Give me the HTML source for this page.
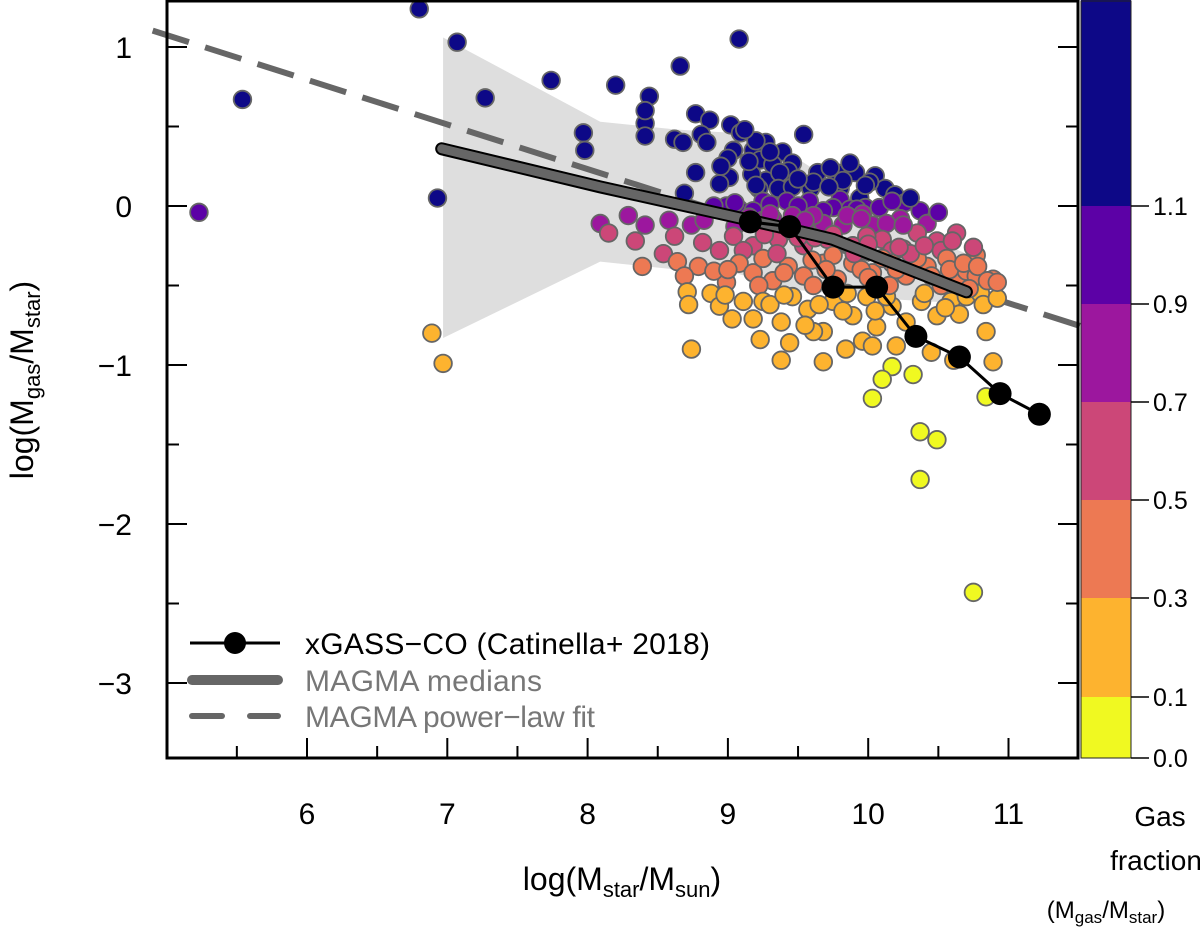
<!DOCTYPE html>
<html><head><meta charset="utf-8"><style>
html,body{margin:0;padding:0;background:#fff;}
svg{display:block;font-family:"Liberation Sans",sans-serif;}
</style></head><body>
<svg id="chart" width="1200" height="928" viewBox="0 0 1200 928" xmlns="http://www.w3.org/2000/svg">
<g id="shade"></g>
<g id="fit"></g>
<g id="pts"></g>
<g id="med"></g>
<g id="xg"></g>
<g id="axes"></g>
<g id="cbar"></g>
<g>
  <line x1="190" y1="643" x2="280" y2="643" stroke="#000" stroke-width="3"/>
  <circle cx="235" cy="643" r="11" fill="#000"/>
  <text x="305" y="654" font-size="30" textLength="405" fill="#000">xGASS−CO (Catinella+ 2018)</text>
  <line x1="192" y1="680" x2="278" y2="680" stroke="#666" stroke-width="10" stroke-linecap="round"/>
  <text x="305" y="691" font-size="30" textLength="237" fill="#777">MAGMA medians</text>
  <line x1="192" y1="716" x2="222" y2="716" stroke="#666" stroke-width="6" stroke-linecap="round"/>
  <line x1="250" y1="716" x2="278" y2="716" stroke="#666" stroke-width="6" stroke-linecap="round"/>
  <text x="305" y="727" font-size="30" textLength="290" fill="#777">MAGMA power−law fit</text>
</g>
<text x="622" y="890" font-size="32" text-anchor="middle">log(M<tspan font-size="22" dy="7">star</tspan><tspan dy="-7">/M</tspan><tspan font-size="22" dy="7">sun</tspan><tspan dy="-7">)</tspan></text>
<text transform="translate(33,380) rotate(-90)" font-size="32" text-anchor="middle">log(M<tspan font-size="22" dy="7">gas</tspan><tspan dy="-7">/M</tspan><tspan font-size="22" dy="7">star</tspan><tspan dy="-7">)</tspan></text>
<g font-size="28" text-anchor="middle">
<text x="1160" y="826">Gas</text>
<text x="1156" y="870">fraction</text>
<text x="1106" y="918" font-size="24">(M<tspan font-size="17" dy="5">gas</tspan><tspan dy="-5">/M</tspan><tspan font-size="17" dy="5">star</tspan><tspan dy="-5">)</tspan></text>
</g>
</svg>
<script>
const scatterX=[8.41,8.41,8.77,8.87,9.02,9.09,8.81,8.85,9.54,9.27,9.39,9.18,9.23,9.32,9.46,9.43,8.77,9.01,8.94,9.27,9.37,9.22,9.36,9.46,9.64,9.77,9.91,9.87,10.05,9.73,10.12,9.80,9.59,10.01,8.69,9.94,9.17,9.30,9.20,9.15,9.04,9.61,9.50,9.82,10.19,9.20,9.12,9.00,8.95,
5.54,6.80,7.07,7.27,7.74,8.20,7.97,7.98,6.93,8.44,8.66,9.08,8.41,8.62,8.68,
5.23,8.99,9.08,9.42,9.58,9.80,9.87,9.98,10.08,9.75,10.26,10.37,9.25,9.50,9.18,9.68,10.17,8.90,9.05,9.30,9.92,
8.29,8.41,8.74,8.83,8.58,9.25,9.46,9.68,9.96,10.23,10.03,9.82,10.42,9.61,8.09,9.32,10.13,9.85,9.05,9.15,9.55,
8.15,8.34,8.54,8.82,9.04,9.18,9.36,9.54,9.71,9.89,10.10,10.35,10.49,10.52,10.63,10.17,9.99,8.94,8.62,9.46,9.96,9.11,9.26,9.62,10.25,
8.39,8.64,8.79,8.99,9.08,9.18,9.25,9.32,9.43,9.54,9.68,9.78,9.89,10.03,10.17,10.27,10.42,10.56,10.63,10.70,10.77,10.77,8.90,8.69,9.22,9.61,10.52,9.75,10.10,10.89,9.00,9.40,9.95,10.35,
8.71,8.72,8.88,9.03,9.18,9.23,8.74,9.38,9.44,9.38,9.68,9.84,9.25,9.46,9.57,9.75,9.89,9.99,10.06,10.17,10.27,10.38,10.49,10.59,10.70,10.80,10.84,9.96,10.20,10.45,10.61,10.89,9.68,9.11,8.94,10.03,9.82,9.61,10.13,10.35,6.89,6.97,8.98,9.30,9.55,10.65,
10.17,10.10,10.03,10.32,10.37,10.49,10.37,10.75,10.84,
9.35,9.60,9.70,9.90,10.00,10.20,10.30,10.45,10.58,10.68,10.78,10.85,9.40,9.65,9.85,10.05,10.15,10.40,10.55,10.72,10.82,10.92,9.50,9.75,10.00,10.22,10.40,10.60,10.75,10.92,9.30,9.55,9.95,10.25,9.72,9.98,10.30,10.50];
const scatterY=[0.52,0.44,0.58,0.54,0.51,0.46,0.45,0.40,0.45,0.40,0.34,0.35,0.29,0.26,0.27,0.22,0.21,0.18,0.14,0.16,0.21,0.11,0.11,0.12,0.21,0.21,0.21,0.27,0.19,0.24,0.11,0.11,0.11,0.15,0.08,0.05,0.20,0.34,0.41,0.28,0.35,0.15,0.17,0.16,0.07,0.13,0.48,0.30,0.25,
0.67,1.24,1.03,0.68,0.79,0.76,0.46,0.35,0.05,0.69,0.88,1.05,0.60,0.42,0.40,
-0.04,0.00,-0.02,0.03,0.03,0.04,-0.02,-0.01,-0.01,-0.01,0.02,-0.03,0.03,0.00,-0.03,-0.03,0.03,0.00,0.02,0.01,-0.02,
-0.06,-0.12,-0.12,-0.09,-0.09,-0.09,-0.06,-0.11,-0.05,-0.08,-0.12,-0.12,-0.11,-0.06,-0.11,-0.08,-0.11,-0.06,-0.13,-0.07,-0.13,
-0.17,-0.22,-0.30,-0.23,-0.19,-0.25,-0.21,-0.25,-0.21,-0.25,-0.21,-0.17,-0.22,-0.28,-0.17,-0.28,-0.19,-0.28,-0.19,-0.16,-0.28,-0.28,-0.18,-0.20,-0.27,
-0.38,-0.35,-0.38,-0.48,-0.36,-0.42,-0.33,-0.47,-0.38,-0.44,-0.36,-0.46,-0.36,-0.42,-0.36,-0.44,-0.38,-0.33,-0.46,-0.41,-0.31,-0.44,-0.41,-0.44,-0.50,-0.50,-0.50,-0.31,-0.33,-0.46,-0.40,-0.42,-0.40,-0.33,
-0.54,-0.62,-0.55,-0.71,-0.71,-0.84,-0.90,-0.73,-0.86,-0.97,-0.98,-0.90,-0.60,-0.57,-0.65,-0.60,-0.69,-0.57,-0.76,-0.63,-0.73,-0.60,-0.69,-0.60,-0.57,-0.55,-0.79,-0.85,-0.88,-0.92,-0.97,-0.98,-0.79,-0.60,-0.63,-0.88,-0.66,-0.79,-0.57,-0.82,-0.80,-0.99,-0.56,-0.62,-0.75,-0.68,
-1.01,-1.09,-1.21,-1.06,-1.42,-1.47,-1.72,-2.43,-1.20,
-0.30,-0.34,-0.40,-0.30,-0.45,-0.40,-0.30,-0.44,-0.40,-0.36,-0.38,-0.47,-0.56,-0.62,-0.55,-0.66,-0.50,-0.55,-0.64,-0.52,-0.62,-0.58,-0.20,-0.18,-0.24,-0.26,-0.25,-0.22,-0.26,-0.48,-0.05,-0.09,-0.08,-0.12,0.12,0.13,0.05,-0.04];
const xgassX=[9.16,9.44,9.75,10.06,10.34,10.65,10.94,11.22];
const xgassY=[-0.10,-0.13,-0.51,-0.51,-0.82,-0.95,-1.18,-1.31];
const medianX=[6.96,8.09,9.16,9.51,9.75,10.70];
const medianY=[0.36,0.12,-0.09,-0.16,-0.21,-0.54];
const bandX=[6.97,8.09,8.64,9.04,9.51,10.23,10.83];
const bandUpper=[1.06,0.53,0.48,0.46,0.29,-0.12,-0.35];
const bandLower=[-0.83,-0.35,-0.40,-0.42,-0.53,-0.59,-0.62];
const fitCoef=[1.075,-0.281,5.0];
const xTicks=[6,7,8,9,10,11];
const yTicks=[1,0,-1,-2,-3];
const cbLevels=[0.0,0.1,0.3,0.5,0.7,0.9,1.1];
const cbColors=["#f0f921","#fdb32f","#ed7953","#cc4778","#9c179e","#5c01a6","#0d0887"];

const NS="http://www.w3.org/2000/svg";
const X0=167,X1=1078,Y0=0,Y1=758;
const xS=v=>307+(v-6)*140.3;
const yS=v=>206-v*159;
function mk(tag,attrs,parent){const e=document.createElementNS(NS,tag);for(const k in attrs)e.setAttribute(k,attrs[k]);parent.appendChild(e);return e;}
function colorFor(y){const f=Math.pow(10,y);let i=0;for(let k=1;k<cbLevels.length;k++){if(f>=cbLevels[k])i=k;}return cbColors[i];}

let pts=bandX.map((x,i)=>xS(x)+","+yS(bandUpper[i]));
for(let i=bandX.length-1;i>=0;i--)pts.push(xS(bandX[i])+","+yS(bandLower[i]));
const band=mk("polygon",{points:pts.join(" "),fill:"#dedede"},document.getElementById("shade"));



const fx0=4.9,fx1=11.6;
const fl=mk("line",{x1:xS(fx0),y1:yS(fitCoef[0]+fitCoef[1]*(fx0-fitCoef[2])),x2:xS(fx1),y2:yS(fitCoef[0]+fitCoef[1]*(fx1-fitCoef[2])),stroke:"#666","stroke-width":6,"stroke-dasharray":"38 17"},document.getElementById("fit"));



const pg=document.getElementById("pts");
scatterX.forEach((x,i)=>{
  const c=mk("circle",{cx:xS(x),cy:yS(scatterY[i]),r:8.8,fill:colorFor(scatterY[i]),stroke:"#666","stroke-width":1.8},pg);
  
  
});

const mp=medianX.map((x,i)=>xS(x)+","+yS(medianY[i])).join(" ");
mk("polyline",{points:mp,fill:"none",stroke:"#000","stroke-width":13,"stroke-linecap":"round","stroke-linejoin":"round"},document.getElementById("med"));
const ml=mk("polyline",{points:mp,fill:"none",stroke:"#666","stroke-width":9,"stroke-linecap":"round","stroke-linejoin":"round"},document.getElementById("med"));



const xg=document.getElementById("xg");
mk("polyline",{points:xgassX.map((x,i)=>xS(x)+","+yS(xgassY[i])).join(" "),fill:"none",stroke:"#000","stroke-width":3},xg);
xgassX.forEach((x,i)=>{
  const c=mk("circle",{cx:xS(x),cy:yS(xgassY[i]),r:11.5,fill:"#000"},xg);
  
  
});

const ax=document.getElementById("axes");
mk("rect",{x:X0,y:Y0+1,width:X1-X0,height:Y1-Y0-1,fill:"none",stroke:"#000","stroke-width":3},ax);
for(let v=5.5;v<=11.01;v+=0.5){
  const major=Math.abs(v-Math.round(v))<0.01;
  const L=major?20:12;
  mk("line",{x1:xS(v),x2:xS(v),y1:Y1,y2:Y1-L,stroke:"#000","stroke-width":2},ax);
}
xTicks.forEach(v=>{
  const t=mk("text",{x:xS(v),y:824,"font-size":30,"text-anchor":"middle"},ax);t.textContent=v;
  
  
});
for(let v=-3;v<=1.01;v+=0.5){
  const major=Math.abs(v-Math.round(v))<0.01;
  const L=major?20:12;
  mk("line",{x1:X0,x2:X0+L,y1:yS(v),y2:yS(v),stroke:"#000","stroke-width":2},ax);
  mk("line",{x1:X1,x2:X1-L,y1:yS(v),y2:yS(v),stroke:"#000","stroke-width":2},ax);
}
yTicks.forEach(v=>{
  const t=mk("text",{x:132,y:yS(v)+11,"font-size":30,"text-anchor":"end"},ax);t.textContent=v<0?"−"+(-v):v;
  
  
});

const cb=document.getElementById("cbar");
const cbY=[758,697,598,500,402,304,206,0];
for(let k=0;k<cbColors.length;k++){
  const r=mk("rect",{x:1081,y:cbY[k+1],width:50,height:cbY[k]-cbY[k+1],fill:cbColors[k]},cb);
  
  
}
mk("rect",{x:1081,y:1,width:50,height:757,fill:"none",stroke:"#222","stroke-width":1},cb);
cbLevels.forEach((v,k)=>{
  mk("line",{x1:1131,x2:1149,y1:cbY[k],y2:cbY[k],stroke:"#000","stroke-width":1.5},cb);
  const t=mk("text",{x:1153,y:cbY[k]+9,"font-size":25},cb);t.textContent=v.toFixed(1);
  
  
});
</script>
</body></html>
